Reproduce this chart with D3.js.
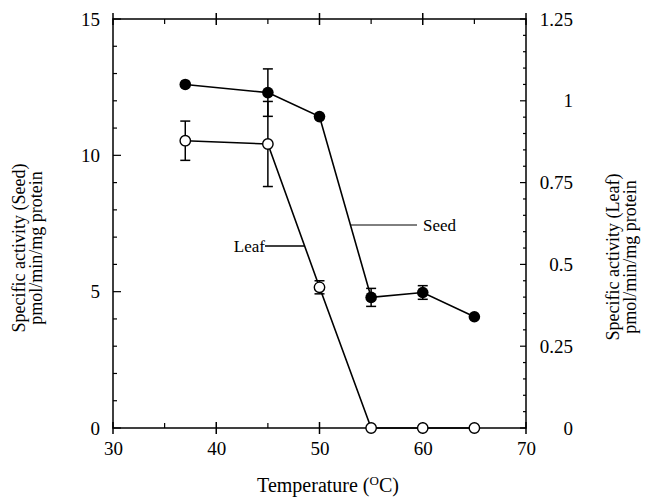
<!DOCTYPE html>
<html>
<head>
<meta charset="utf-8">
<script src="https://cdn.jsdelivr.net/npm/d3@7"></script>
<style>
  body { margin: 0; background: #fff; }
  text { font-family: "Liberation Serif", "Times New Roman", serif; fill: #000; }
</style>
</head>
<body>
<script>
// temperatures (deg C)
var temps = [37, 45, 50, 55, 60, 65];
// seed activity, left axis
var seedVals = [12.6, 12.3, 11.42, 4.79, 4.97, 4.08];
var seedErr  = [0, 0.87, 0, 0.33, 0.25, 0];
// leaf activity, right axis
var leafVals = [0.878, 0.868, 0.43, 0, 0, 0];
var leafErr  = [0.06, 0.13, 0.02, 0, 0, 0];

var xTicks = [30, 40, 50, 60, 70];
var xMinor = [35, 45, 55, 65];
var leftTicks = [0, 5, 10, 15];
var rightTicks = [0, 0.25, 0.5, 0.75, 1, 1.25];

var W = 652, H = 504;
var plotL = 113, plotR = 526, plotT = 19, plotB = 428;

var svg = d3.select('body').append('svg')
    .attr('width', W).attr('height', H);

var x = d3.scaleLinear().domain([30, 70]).range([plotL, plotR]);
var yS = d3.scaleLinear().domain([0, 15]).range([plotB, plotT]);
var yL = d3.scaleLinear().domain([0, 1.25]).range([plotB, plotT]);

var fs = 19;
var serif = '"Liberation Serif", "Times New Roman", serif';

// frame
svg.append('rect')
    .attr('x', plotL).attr('y', plotT)
    .attr('width', plotR - plotL).attr('height', plotB - plotT)
    .attr('fill', 'none').attr('stroke', '#000').attr('stroke-width', 1.5);

// ---- bottom axis (labels), ticks drawn by hand below
var gB = svg.append('g').attr('transform', 'translate(0,' + plotB + ')')
    .call(d3.axisBottom(x).tickValues(xTicks).tickSize(0).tickPadding(14));
gB.attr('font-family', serif);
gB.select('.domain').remove();
gB.selectAll('text').attr('font-size', fs);

// top axis (no labels)
var gT = svg.append('g').attr('transform', 'translate(0,' + plotT + ')');

function xTicksOn(g, dir) {
    g.selectAll('line.maj').data(xTicks).enter().append('line')
        .attr('x1', d => x(d)).attr('x2', d => x(d))
        .attr('y1', -6).attr('y2', 6)
        .attr('stroke', '#000').attr('stroke-width', 1.5);
    g.selectAll('line.min').data(xMinor).enter().append('line')
        .attr('x1', d => x(d)).attr('x2', d => x(d))
        .attr('y1', 0).attr('y2', 5 * dir)
        .attr('stroke', '#000').attr('stroke-width', 1.2);
}
xTicksOn(gB.append('g'), -1);
xTicksOn(gT, 1);

// ---- left axis
var gLft = svg.append('g').attr('transform', 'translate(' + plotL + ',0)')
    .call(d3.axisLeft(yS).tickValues(leftTicks).tickSize(0).tickPadding(13));
gLft.attr('font-family', serif);
gLft.select('.domain').remove();
gLft.selectAll('text').attr('font-size', fs);
gLft.append('g').selectAll('line').data(d3.range(0, 16)).enter().append('line')
    .attr('x1', 0).attr('x2', d => d % 5 === 0 ? 8 : 4)
    .attr('y1', d => yS(d)).attr('y2', d => yS(d))
    .attr('stroke', '#000').attr('stroke-width', 1.2);

// ---- right axis
var gR = svg.append('g').attr('transform', 'translate(' + plotR + ',0)')
    .call(d3.axisRight(yL).tickValues(rightTicks).tickSize(0).tickPadding(0)
        .tickFormat(d3.format('~g')));
gR.attr('font-family', serif);
gR.select('.domain').remove();
gR.selectAll('text').attr('font-size', fs).attr('x', 47).attr('text-anchor', 'end');
gR.append('g').selectAll('line').data(d3.range(0, 26)).enter().append('line')
    .attr('x1', 0).attr('x2', d => d % 5 === 0 ? -6 : -3)
    .attr('y1', d => yL(d * 0.05)).attr('y2', d => yL(d * 0.05))
    .attr('stroke', '#000').attr('stroke-width', 1.2);

// ---- axis titles
var t1 = svg.append('text')
    .attr('transform', 'translate(25,248) rotate(-90)')
    .attr('text-anchor', 'middle').attr('font-size', 18);
t1.append('tspan').attr('x', 0).attr('dy', 0).text('Specific activity (Seed)');
t1.append('tspan').attr('x', 0).attr('dy', 16.5).text('pmol/min/mg protein');

var t2 = svg.append('text')
    .attr('transform', 'translate(619,257) rotate(-90)')
    .attr('text-anchor', 'middle').attr('font-size', 18);
t2.append('tspan').attr('x', 0).attr('dy', 0).text('Specific activity (Leaf)');
t2.append('tspan').attr('x', 0).attr('dy', 16.5).text('pmol/min/mg protein');

var t3 = svg.append('text')
    .attr('x', 328).attr('y', 492)
    .attr('text-anchor', 'middle').attr('font-size', 20);
t3.append('tspan').text('Temperature (');
t3.append('tspan').attr('font-size', 13).attr('dy', -7).text('O');
t3.append('tspan').attr('dy', 7).text('C)');

// ---- series
var seed = temps.map((t, i) => ({x: t, y: seedVals[i], e: seedErr[i]}));
var leaf = temps.map((t, i) => ({x: t, y: leafVals[i], e: leafErr[i]}));

function errBars(data, y) {
    var g = svg.append('g').attr('stroke', '#000').attr('stroke-width', 1.5);
    data.filter(d => d.e > 0).forEach(function(d) {
        var cx = x(d.x);
        g.append('line').attr('x1', cx).attr('x2', cx)
            .attr('y1', y(d.y - d.e)).attr('y2', y(d.y + d.e));
        [d.y - d.e, d.y + d.e].forEach(function(v) {
            g.append('line').attr('x1', cx - 5).attr('x2', cx + 5)
                .attr('y1', y(v)).attr('y2', y(v));
        });
    });
}
errBars(seed, yS);
errBars(leaf, yL);

var lineS = d3.line().x(d => x(d.x)).y(d => yS(d.y));
var lineL = d3.line().x(d => x(d.x)).y(d => yL(d.y));

svg.append('path').datum(leaf).attr('d', lineL)
    .attr('fill', 'none').attr('stroke', '#000').attr('stroke-width', 1.6);
svg.append('path').datum(seed).attr('d', lineS)
    .attr('fill', 'none').attr('stroke', '#000').attr('stroke-width', 1.6);

svg.selectAll('circle.leaf').data(leaf).enter().append('circle')
    .attr('cx', d => x(d.x)).attr('cy', d => yL(d.y)).attr('r', 5.2)
    .attr('fill', '#fff').attr('stroke', '#000').attr('stroke-width', 1.4);
svg.selectAll('circle.seed').data(seed).enter().append('circle')
    .attr('cx', d => x(d.x)).attr('cy', d => yS(d.y)).attr('r', 5.8)
    .attr('fill', '#000');

// ---- series labels with leader lines
var seedLabelY = 225, leafLabelY = 246;
function xOnSeg(p0, p1, yPix, y) {
    var a = y(p0.y), b = y(p1.y);
    return x(p0.x) + (yPix - a) / (b - a) * (x(p1.x) - x(p0.x));
}
svg.append('line')
    .attr('x1', xOnSeg(seed[2], seed[3], seedLabelY, yS)).attr('x2', 417)
    .attr('y1', seedLabelY).attr('y2', seedLabelY)
    .attr('stroke', '#000').attr('stroke-width', 1);
svg.append('text').attr('x', 423).attr('y', seedLabelY + 6)
    .attr('font-size', 17).text('Seed');

svg.append('line')
    .attr('x1', 265).attr('x2', xOnSeg(leaf[1], leaf[2], leafLabelY, yL))
    .attr('y1', leafLabelY).attr('y2', leafLabelY)
    .attr('stroke', '#000').attr('stroke-width', 1.4);
svg.append('text').attr('x', 265).attr('y', leafLabelY + 6)
    .attr('text-anchor', 'end').attr('font-size', 17).text('Leaf');
</script>
</body>
</html>
